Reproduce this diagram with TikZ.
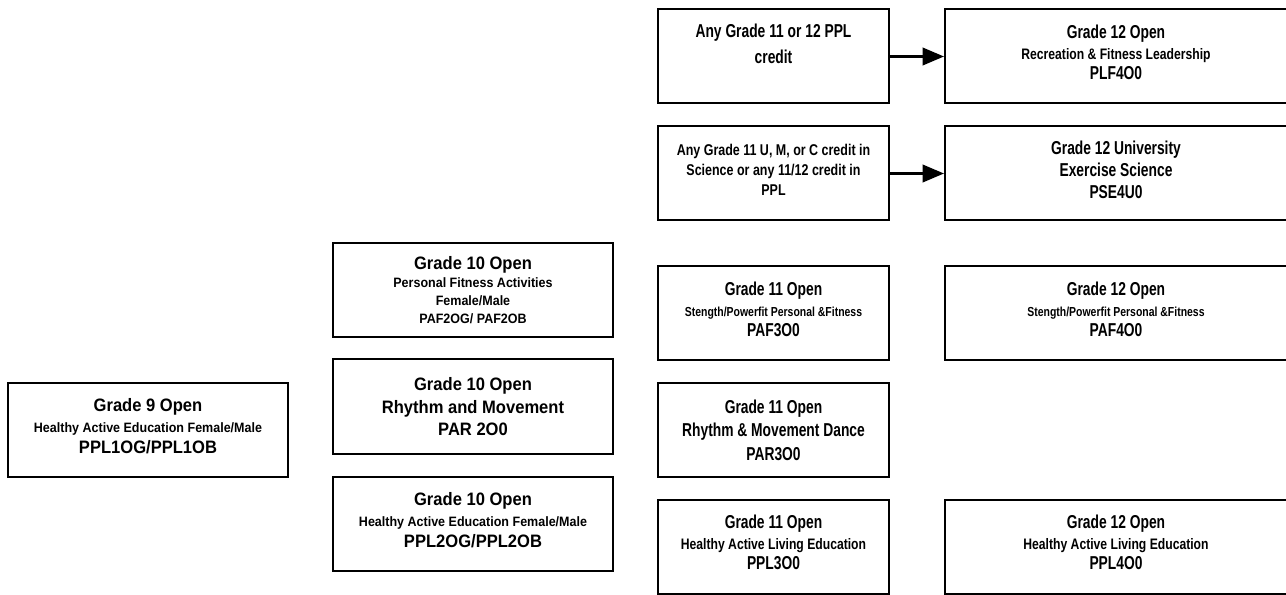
\documentclass[tikz,border=0pt]{standalone}
\usepackage{fontspec}
\setmainfont{Liberation Sans}[FakeStretch=0.92]
\newfontfamily\narrowbig{Liberation Sans}[FakeStretch=0.74]
\newfontfamily\narrowsm{Liberation Sans}[FakeStretch=0.80]
\usetikzlibrary{arrows.meta}

\newcommand{\bigln}[1]{{\fontsize{13.5}{15.5}\selectfont #1}}
\newcommand{\smallln}[1]{{\fontsize{10.2}{12}\selectfont #1}}
\newcommand{\bigrt}[1]{{\narrowbig\fontsize{14}{15.5}\selectfont #1}}
\newcommand{\smallrt}[2][11.4]{{\narrowsm\fontsize{#1}{12}\selectfont #2}}

\begin{document}
\begin{tikzpicture}[x=0.75pt,y=-0.75pt,
	box/.style={draw, line width=1.5pt, align=center, inner sep=0pt,
		minimum height=70.5pt, text depth=6pt, font=\fontsize{12}{15.5}\selectfont\bfseries},
	wide/.style={box, minimum width=210pt},
	mid/.style={box, minimum width=173.25pt},
	far/.style={box, minimum width=256.5pt},
	arr/.style={line width=2pt, -{Triangle[length=16pt,width=13pt]}}]
		\useasboundingbox (0,0) rectangle (1286,595);
		% grade 9
		\node[wide] (g9) at (148,430) {\bigln{Grade 9 Open}\\ \smallln{Healthy Active Education Female/Male}\\ \bigln{PPL1OG/PPL1OB}};
		% grade 10
		\node[wide, text depth=0pt, font=\fontsize{12}{13.5}\selectfont\bfseries] (g10paf) at (473,290) {\bigln{Grade 10 Open}\\ \smallln{Personal Fitness Activities}\\ \smallln{Female/Male}\\ \smallln{PAF2OG/ PAF2OB}};
		\node[wide, text depth=0pt, font=\fontsize{13.5}{17}\selectfont\bfseries] (g10par) at (473,406.5) {Grade 10 Open\\ Rhythm and Movement\\ PAR 2O0};
		\node[wide] (g10ppl) at (473,524) {\bigln{Grade 10 Open}\\ \smallln{Healthy Active Education Female/Male}\\ \bigln{PPL2OG/PPL2OB}};
		% prerequisites
		\node[mid, text depth=19pt, font=\narrowbig\fontsize{14}{19}\selectfont\bfseries] (anyppl) at (773.5,56.5) {Any Grade 11 or 12 PPL\\ credit};
		\node[mid, font=\narrowsm\fontsize{11.7}{15}\selectfont\bfseries] (anysci) at (773.5,173.5) {Any Grade 11 U, M, or C credit in\\ Science or any 11/12 credit in\\ PPL};
		% grade 11
		\node[mid] (g11paf) at (773.5,313.5) {\bigrt{Grade 11 Open}\\ \smallrt[9.8]{Stength/Powerfit Personal \&Fitness}\\ \bigrt{PAF3O0}};
		\node[mid, text depth=0pt, font=\narrowbig\fontsize{14}{17.5}\selectfont\bfseries] (g11par) at (773.5,430) {Grade 11 Open\\ Rhythm \& Movement Dance\\ PAR3O0};
		\node[mid] (g11ppl) at (773.5,546.5) {\bigrt{Grade 11 Open}\\ \smallrt{Healthy Active Living Education}\\ \bigrt{PPL3O0}};
		% grade 12
		\node[far] (g12plf) at (1116,56.5) {\bigrt{Grade 12 Open}\\ \smallrt{Recreation \& Fitness Leadership}\\ \bigrt{PLF4O0}};
		\node[far, font=\narrowbig\fontsize{14}{16.5}\selectfont\bfseries] (g12pse) at (1116,173.5) {Grade 12 University\\ Exercise Science\\ PSE4U0};
		\node[far] (g12paf) at (1116,313.5) {\bigrt{Grade 12 Open}\\ \smallrt[9.8]{Stength/Powerfit Personal \&Fitness}\\ \bigrt{PAF4O0}};
		\node[far] (g12ppl) at (1116,546.5) {\bigrt{Grade 12 Open}\\ \smallrt{Healthy Active Living Education}\\ \bigrt{PPL4O0}};
		\draw[arr] (anyppl) -- (g12plf);
		\draw[arr] (anysci) -- (g12pse);
\end{tikzpicture}
\end{document}
